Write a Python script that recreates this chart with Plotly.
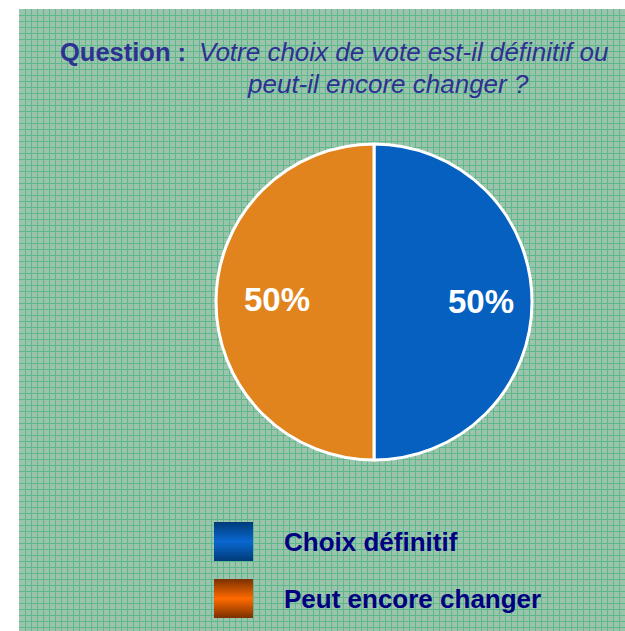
import plotly.graph_objects as go

# ---- data ----
labels = ["Choix définitif", "Peut encore changer"]
values = [50, 50]
slice_colors = ["#0560c0", "#e2841e"]
legend_dark = ["#003a78", "#7a3000"]
legend_bright = ["#0a68d0", "#ff6a00"]
title_bold = "Question :"
title_line1 = "Votre choix de vote est-il définitif ou"
title_line2 = "peut-il encore changer ?"

W, H = 625, 631
PX0, PY0 = 19, 9  # panel top-left
font_fam = "Arial, Liberation Sans, sans-serif"

fig = go.Figure()

# background textured panel (pixel-coordinate cartesian axes)
fig.add_trace(go.Scatter(x=[], y=[], xaxis="x", yaxis="y", showlegend=False, hoverinfo="skip"))

# pie
fig.add_trace(go.Pie(
    labels=labels, values=values, sort=False, direction="clockwise", rotation=0,
    marker=dict(colors=slice_colors, line=dict(color="white", width=3)),
    textinfo="none", showlegend=False, hoverinfo="label+percent",
    domain=dict(x=[(374 - 162) / W, (374 + 162) / W], y=[1 - (302 + 158) / H, 1 - (302 - 158) / H]),
))

# legend squares with vertical gradient
box_tops = [522, 579]
for i, lab in enumerate(labels):
    y0, y1 = box_tops[i], box_tops[i] + 39
    fig.add_trace(go.Scatter(
        x=[214, 253, 253, 214, 214], y=[y0, y0, y1, y1, y0], mode="lines", fill="toself",
        line=dict(width=0), xaxis="x", yaxis="y", showlegend=False, hoverinfo="skip",
        fillgradient=dict(type="vertical", colorscale=[[0, legend_dark[i]], [0.5, legend_bright[i]], [1, legend_dark[i]]]),
    ))

annotations = []
# slice percentage labels (text from values)
total = sum(values)
label_pos = [(481, 301), (277, 299)]
for i, v in enumerate(values):
    annotations.append(dict(x=label_pos[i][0], y=label_pos[i][1], xref="x", yref="y",
                            text="<b>%d%%</b>" % round(100 * v / total), showarrow=False,
                            xanchor="center", yanchor="middle",
                            font=dict(family=font_fam, size=33, color="white")))
for i, lab in enumerate(labels):
    annotations.append(dict(x=282, y=box_tops[i] + 20, xref="x", yref="y", text="<b>%s</b>" % lab,
                            showarrow=False, xanchor="left", yanchor="middle",
                            font=dict(family=font_fam, size=26, color="#000080")))
annotations.append(dict(x=58, y=52, xref="x", yref="y", text="<b>%s</b>" % title_bold, showarrow=False,
                        xanchor="left", yanchor="middle", font=dict(family=font_fam, size=25.5, color="#2e3192")))
annotations.append(dict(x=197, y=52, xref="x", yref="y", text="<i>%s</i>" % title_line1, showarrow=False,
                        xanchor="left", yanchor="middle", font=dict(family=font_fam, size=26, color="#2e3192")))
annotations.append(dict(x=245, y=84, xref="x", yref="y", text="<i>%s</i>" % title_line2, showarrow=False,
                        xanchor="left", yanchor="middle", font=dict(family=font_fam, size=26, color="#2e3192")))

fig.update_layout(
    width=W, height=H, margin=dict(l=0, r=0, t=0, b=0),
    paper_bgcolor="white", plot_bgcolor="#9cc4ac",
    xaxis=dict(domain=[PX0 / W, 1], range=[PX0, W], showgrid=True, gridcolor="#5cb98b", gridwidth=1,
               tick0=PX0, dtick=6, showticklabels=False, zeroline=False, ticks="", fixedrange=True),
    yaxis=dict(domain=[0, 1 - PY0 / H], range=[H, PY0], showgrid=True, gridcolor="#5cb98b", gridwidth=1,
               tick0=PY0, dtick=6, showticklabels=False, zeroline=False, ticks="", fixedrange=True),
    annotations=annotations,
)

fig.write_html("out.html", config={"displayModeBar": False},
               post_script="document.body.style.margin='0';document.body.style.overflow='hidden';")
